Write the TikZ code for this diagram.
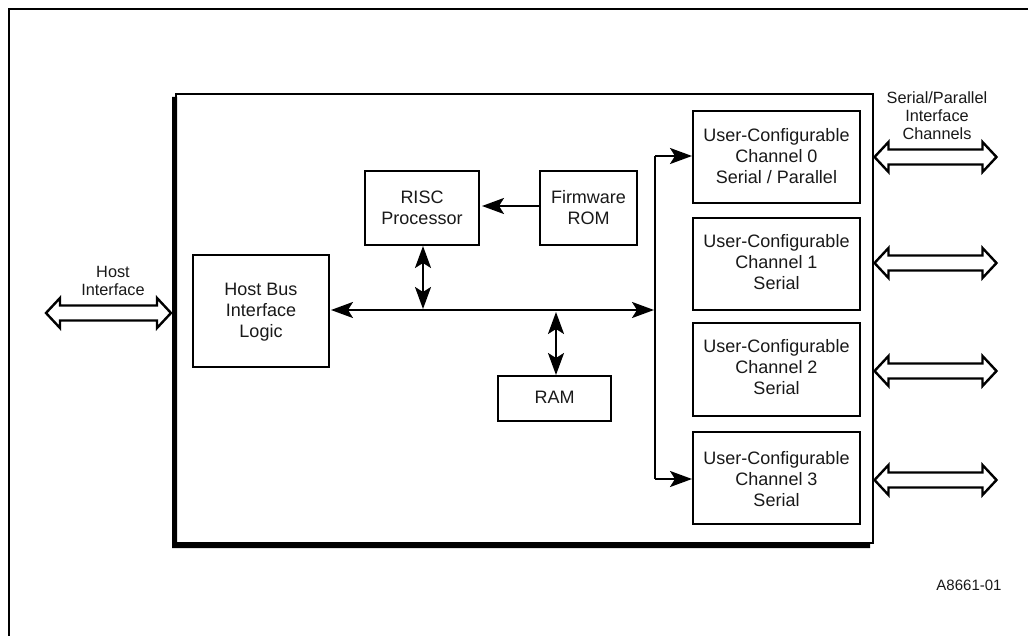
\documentclass[tikz,border=0pt]{standalone}
\usepackage{fontspec}
\setmainfont{Liberation Sans}
\usetikzlibrary{arrows.meta,calc}
\tikzset{
  lbl/.style={inner sep=0pt,align=center,text=black!90,font=\fontsize{18}{21}\selectfont},
  box/.style={lbl,draw=black,fill=white,line width=1.9pt},
  small/.style={inner sep=0pt,align=center,text=black!90,font=\fontsize{16.3}{18}\selectfont},
  conn/.style={line width=2.3pt,draw=black},
  tip/.tip={Stealth[length=22pt,width=16pt,inset=5pt]},
  hollow/.style={line width=2.4pt,draw=black,fill=white,miter limit=10},
}
\newcommand{\fatarrow}[2]{%
  \draw[hollow] (#1) -- ++(14,-15) -- ++(0,7.5) -- ($(#2)+(-14,-7.5)$) -- ++(0,-7.5)
    -- (#2) -- ++(-14,15) -- ++(0,-7.5) -- ($(#1)+(14,7.5)$) -- ++(0,7.5) -- cycle;
}
\begin{document}
\begin{tikzpicture}[x=1pt,y=-1pt]
\useasboundingbox (0,0) rectangle (1028,636);
\fill[white] (0,0) rectangle (1028,636);
% page frame, open at right and bottom
\coordinate (fa) at (9,640);
\coordinate (fb) at (9,9);
\coordinate (fc) at (1032,9);
\draw[line width=2.2pt] (fa) -- (fb) -- (fc);
% main block
\coordinate (ma) at (176,94);
\coordinate (mb) at (873,543);
\draw[line width=2pt] (ma) rectangle (mb);
\fill[black] (172,97) -- (177,97) -- (177,542) -- (870,542) -- (870,548) -- (172,548) -- cycle;
% blocks
\node[box,text depth=1.5pt,minimum width=136pt,minimum height=112pt] (host) at (261,311) {Host Bus\\Interface\\Logic};
\node[box,minimum width=114pt,minimum height=74pt] (risc) at (422,208) {RISC\\Processor};
\node[box,minimum width=97pt,minimum height=74pt] (rom) at (588.5,208) {Firmware\\ROM};
\node[box,text depth=2pt,minimum width=113pt,minimum height=45pt] (ram) at (554.5,398.5) {RAM};
\node[box,text depth=2pt,minimum width=167pt,minimum height=92pt] (ch0) at (776.5,157) {User-Configurable\\Channel 0\\Serial / Parallel};
\node[box,text depth=4pt,minimum width=167pt,minimum height=92pt] (ch1) at (776.5,264) {User-Configurable\\Channel 1\\Serial};
\node[box,text depth=6pt,minimum width=167pt,minimum height=93pt] (ch2) at (776.5,369.5) {User-Configurable\\Channel 2\\Serial};
\node[box,minimum width=167pt,minimum height=92pt] (ch3) at (776.5,478) {\rule{0pt}{16pt}User-Configurable\\Channel 3\\Serial};
% labels
\node[small] (hl) at (113,281) {Host\\Interface};
\node[small] (sl) at (937,116) {Serial/Parallel\\Interface\\Channels};
\node[inner sep=0pt,text=black!90,font=\fontsize{15}{18}\selectfont] (id) at (969,585) {A8661-01};
% internal bus
\coordinate (busr) at (654,310);
\coordinate (busl) at (331,310);
\draw[conn,{tip}-{tip}] (busl) -- (busr);
\draw[conn,tip-] (482,206) coordinate (romt) -- (rom.west |- romt);
\coordinate (ristop) at (423,246);
\coordinate (risbot) at (423,309);
\draw[conn,{tip}-{tip}] (ristop) -- (risbot);
\coordinate (ramtop) at (556,312);
\coordinate (rambot) at (556,375);
\draw[conn,{tip}-{tip}] (ramtop) -- (rambot);
% channel bus
\coordinate (v0) at (655,156);
\coordinate (v3) at (655,479);
\coordinate (a0) at (692,156);
\coordinate (a3) at (692,479);
\draw[conn,-tip] (v3) -- (a3);
\draw[conn,-tip] (v0) -- (a0);
\draw[conn,line cap=butt] (v0) -- (v3);
% external fat arrows
\coordinate (hl1) at (46,313); \coordinate (hl2) at (171,313);
\fatarrow{hl1}{hl2}
\coordinate (c0l) at (874.5,157); \coordinate (c0r) at (996.5,157);
\fatarrow{c0l}{c0r}
\coordinate (c1l) at (874.5,263); \coordinate (c1r) at (996.5,263);
\fatarrow{c1l}{c1r}
\coordinate (c2l) at (874.5,371); \coordinate (c2r) at (996.5,371);
\fatarrow{c2l}{c2r}
\coordinate (c3l) at (874.5,480); \coordinate (c3r) at (996.5,480);
\fatarrow{c3l}{c3r}
\end{tikzpicture}
\end{document}
